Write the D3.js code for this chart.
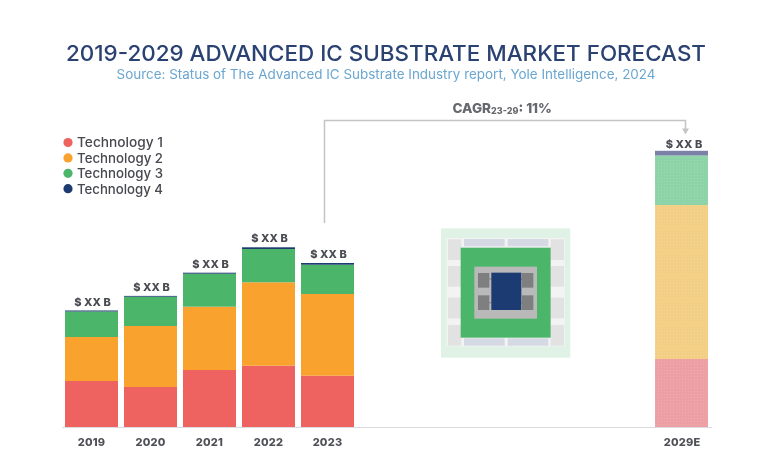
<!DOCTYPE html>
<html><head><meta charset="utf-8">
<script src="https://cdn.jsdelivr.net/npm/d3@7"></script>
<style>html,body{margin:0;padding:0;background:#fff}svg{display:block}text{font-family:Inter,"Open Sans",sans-serif}</style>
</head><body><div id="c"></div>
<script>
const categories=["2019","2020","2021","2022","2023","2029E"];
const seriesNames=["Technology 1","Technology 2","Technology 3","Technology 4"];
const tech1=[46,40,57,61.3,51.3,68];
const tech2=[44,61,63.3,83.4,81.7,154];
const tech3=[25.5,29.3,33,33.3,29.3,49.5];
const tech4=[1,0.8,1,1.7,1.7,4.7];
const barLabel="$ XX B";
const colors=["#ee625e","#f9a22f","#4cb66b","#1d3a70"];
const paleColors=["#eda0a4","#f3cf85","#8dd3a8","#7a80a8"];
const titleText="2019-2029 ADVANCED IC SUBSTRATE MARKET FORECAST";
const subtitleText="Source: Status of The Advanced IC Substrate Industry report, Yole Intelligence, 2024";

const W=766,H=462;
const svg=d3.select("#c").append("svg").attr("width",W).attr("height",H);
const defs=svg.append("defs");
defs.append("filter").attr("id","soft").attr("filterUnits","userSpaceOnUse").attr("x",0).attr("y",0).attr("width",W).attr("height",H)
  .append("feGaussianBlur").attr("stdDeviation",0.45);
const pat=defs.append("pattern").attr("id","dots").attr("patternUnits","userSpaceOnUse").attr("width",3).attr("height",3);
pat.append("rect").attr("x",1).attr("y",1).attr("width",1).attr("height",1).attr("fill","#fff").attr("opacity",0.14);
const root=svg.append("g").attr("filter","url(#soft)");

const y=d3.scaleLinear().domain([0,300]).range([427,127]);
const x=d3.scalePoint().domain(categories.slice(0,5)).range([91.5,327.5]);
const cx=c=>c==="2029E"?681.5:x(c);
const barW=53;

const series=[tech1,tech2,tech3,tech4];
const stack=d3.stack().keys([0,1,2,3]).value((d,k)=>series[k][d])(categories.map((c,i)=>i));

// axis line
root.append("line").attr("x1",62).attr("x2",712).attr("y1",y(0)+0.5).attr("y2",y(0)+0.5).attr("stroke","#dcdce0");

stack.forEach((s,k)=>{
  root.append("g").selectAll("rect").data(s).join("rect")
    .attr("x",(d,i)=>cx(categories[i])-barW/2)
    .attr("width",barW)
    .attr("y",d=>y(d[1]))
    .attr("height",d=>y(d[0])-y(d[1]))
    .attr("fill",(d,i)=>i===5?paleColors[k]:colors[k]);
});
// print-style texture over the forecast bar
const fc=stack.map(s=>s[5]);
root.append("rect").attr("x",cx("2029E")-barW/2).attr("width",barW)
  .attr("y",y(fc[2][1])).attr("height",y(0)-y(fc[2][1])).attr("fill","url(#dots)");

// bar labels
const totals=categories.map((c,i)=>d3.sum(series,s=>s[i]));
root.append("g").selectAll("text").data(categories).join("text")
  .attr("x",c=>c==="2029E"?cx(c)+2.5:cx(c)+1).attr("y",(c,i)=>y(totals[i])-(i===5?2.5:5))
  .attr("text-anchor","middle").attr("font-size",11).attr("font-weight",800)
  .attr("letter-spacing",0.1).attr("fill","#4a4c52").text(barLabel);

// category labels
root.append("g").selectAll("text").data(categories).join("text")
  .attr("x",c=>c==="2029E"?cx(c)+0.5:cx(c)).attr("y",446).attr("text-anchor","middle")
  .attr("font-size",11).attr("font-weight",800).attr("letter-spacing",0.2).attr("fill","#4f5157").text(c=>c);

// title
root.append("text").attr("x",386).attr("y",61).attr("text-anchor","middle")
  .attr("font-size",22).attr("font-weight",500).attr("fill","#2c4272").attr("textLength",640).attr("lengthAdjust","spacingAndGlyphs").text(titleText);
root.append("text").attr("x",386).attr("y",79).attr("text-anchor","middle")
  .attr("font-size",13).attr("fill","#6aa6d0").attr("textLength",539).attr("lengthAdjust","spacingAndGlyphs").text(subtitleText);

// legend
const legend=root.append("g").selectAll("g").data(seriesNames).join("g")
  .attr("transform",(d,i)=>`translate(0,${142.5+i*15.4})`);
legend.append("circle").attr("cx",68).attr("r",4.6).attr("fill",(d,i)=>colors[i]);
legend.append("text").attr("x",77).attr("y",4.8).attr("font-size",13).attr("font-weight",500)
  .attr("fill","#46484f").attr("textLength",86).attr("lengthAdjust","spacingAndGlyphs").text(d=>d);

// CAGR connector
root.append("path").attr("d","M324.5 223V120.5H685.5V130").attr("fill","none").attr("stroke","#c4c4c4").attr("stroke-width",1.5);
root.append("path").attr("d","M682 128.5H689L685.5 134.5Z").attr("fill","#c4c4c4");
const cagr=root.append("text").attr("x",452.5).attr("y",113).attr("font-size",13.5).attr("font-weight",800).attr("fill","#66686d");
cagr.append("tspan").text("CAGR");
cagr.append("tspan").attr("font-size",9).attr("dy",0.5).text("23-29");
cagr.append("tspan").attr("dy",-0.5).text(": 11%");

// chip illustration (decorative)
const ic=root.append("g").attr("transform","translate(420,210)");
const r=(a,b,w,h,f)=>ic.append("rect").attr("x",a/3).attr("y",b/3).attr("width",w/3).attr("height",h/3).attr("fill",f);
r(63,55,388,388,"#e0f2e6");
r(80,84,354,325,"#f3f3f3");
[[84,88],[84,168],[84,263],[84,345],[392,88],[392,168],[392,263],[392,345]].forEach(p=>r(p[0],p[1],40,62,"#e2e2e2"));
[[132,87],[263,87],[132,385],[263,385]].forEach(p=>r(p[0],p[1],122,22,"#d5d9e3"));
r(122,113,270,270,"#4cb66b");
r(163,170,188,156,"#b9b9b9");
[[174,189],[174,256],[306,189],[306,256]].forEach(p=>r(p[0],p[1],34,44,"#7f7f7f"));
r(208,205,6,4,"#8a8a8a");r(300,205,6,4,"#8a8a8a");r(208,276,6,4,"#8a8a8a");r(300,276,6,4,"#8a8a8a");
r(214,188,90,112,"#1b3a73");
</script></body></html>
